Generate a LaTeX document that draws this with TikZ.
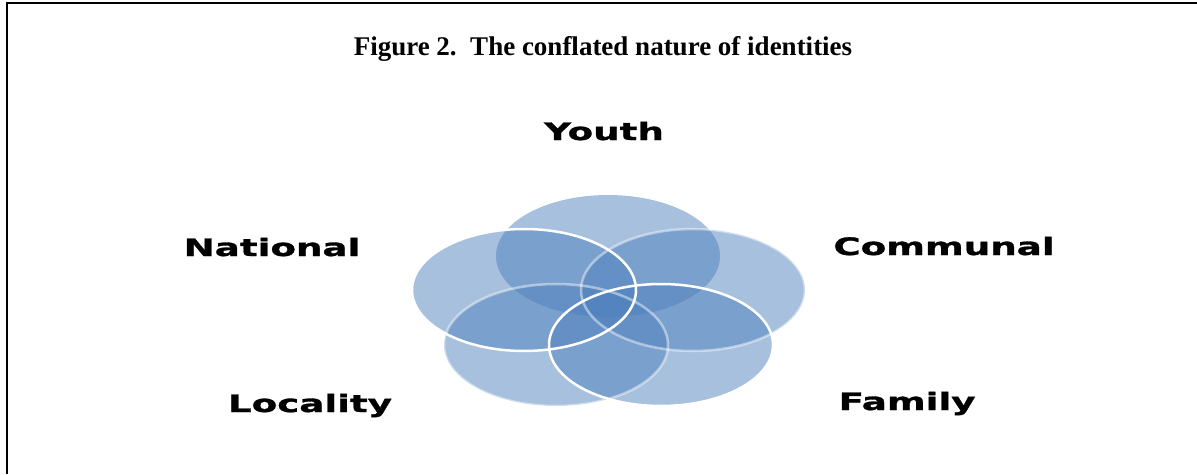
\documentclass[tikz,border=0pt]{standalone}
\usepackage{fontspec}
\setmainfont{Liberation Serif}
\newfontfamily\labfont{DejaVu Sans}[FakeStretch=1.55,FakeBold=1.2]
\definecolor{venn}{RGB}{79,129,189}
\begin{document}
\begin{tikzpicture}[x=1pt,y=-1pt,
  vfill/.style={fill=venn,fill opacity=0.5},
  crisp/.style={draw=white,line width=2.5pt},
  faint/.style={draw=white,draw opacity=0.45,line width=2.5pt},
  lab/.style={anchor=base,inner sep=0pt,font=\labfont\bfseries\fontsize{24}{27}\selectfont},
  ttl/.style={anchor=base,inner sep=0pt,font=\bfseries\fontsize{27}{30}\selectfont}]
\useasboundingbox (0,0) rectangle (1197,474);
\draw[line width=2.2pt,black] (7,474) -- (7,3) -- (1197,3);
\node[ttl] (title) at (603,55) {Figure 2.\ \ The conflated nature of identities};
% ellipses
\coordinate (cY) at (608,256);
\coordinate (cC) at (693,290);
\coordinate (cF) at (661,345);
\coordinate (cL) at (556,345);
\coordinate (cN) at (524,290);
\foreach \c in {cY,cC,cF,cL,cN}
  \fill[vfill] (\c) ellipse [x radius=112pt, y radius=61pt];
\draw[faint] (cC) ellipse [x radius=112pt, y radius=61pt];
\draw[faint] (cL) ellipse [x radius=112pt, y radius=61pt];
\draw[crisp] (cF) ellipse [x radius=112pt, y radius=61pt];
\draw[crisp] (cN) ellipse [x radius=112pt, y radius=61pt];
% labels
\node[lab] (youth) at (604,140) {Youth};
\node[lab] (national) at (272,256) {National};
\node[lab] (communal) at (944,255) {Communal};
\node[lab] (locality) at (310,412) {Locality};
\node[lab] (family) at (907,410) {Family};
\end{tikzpicture}
\end{document}
